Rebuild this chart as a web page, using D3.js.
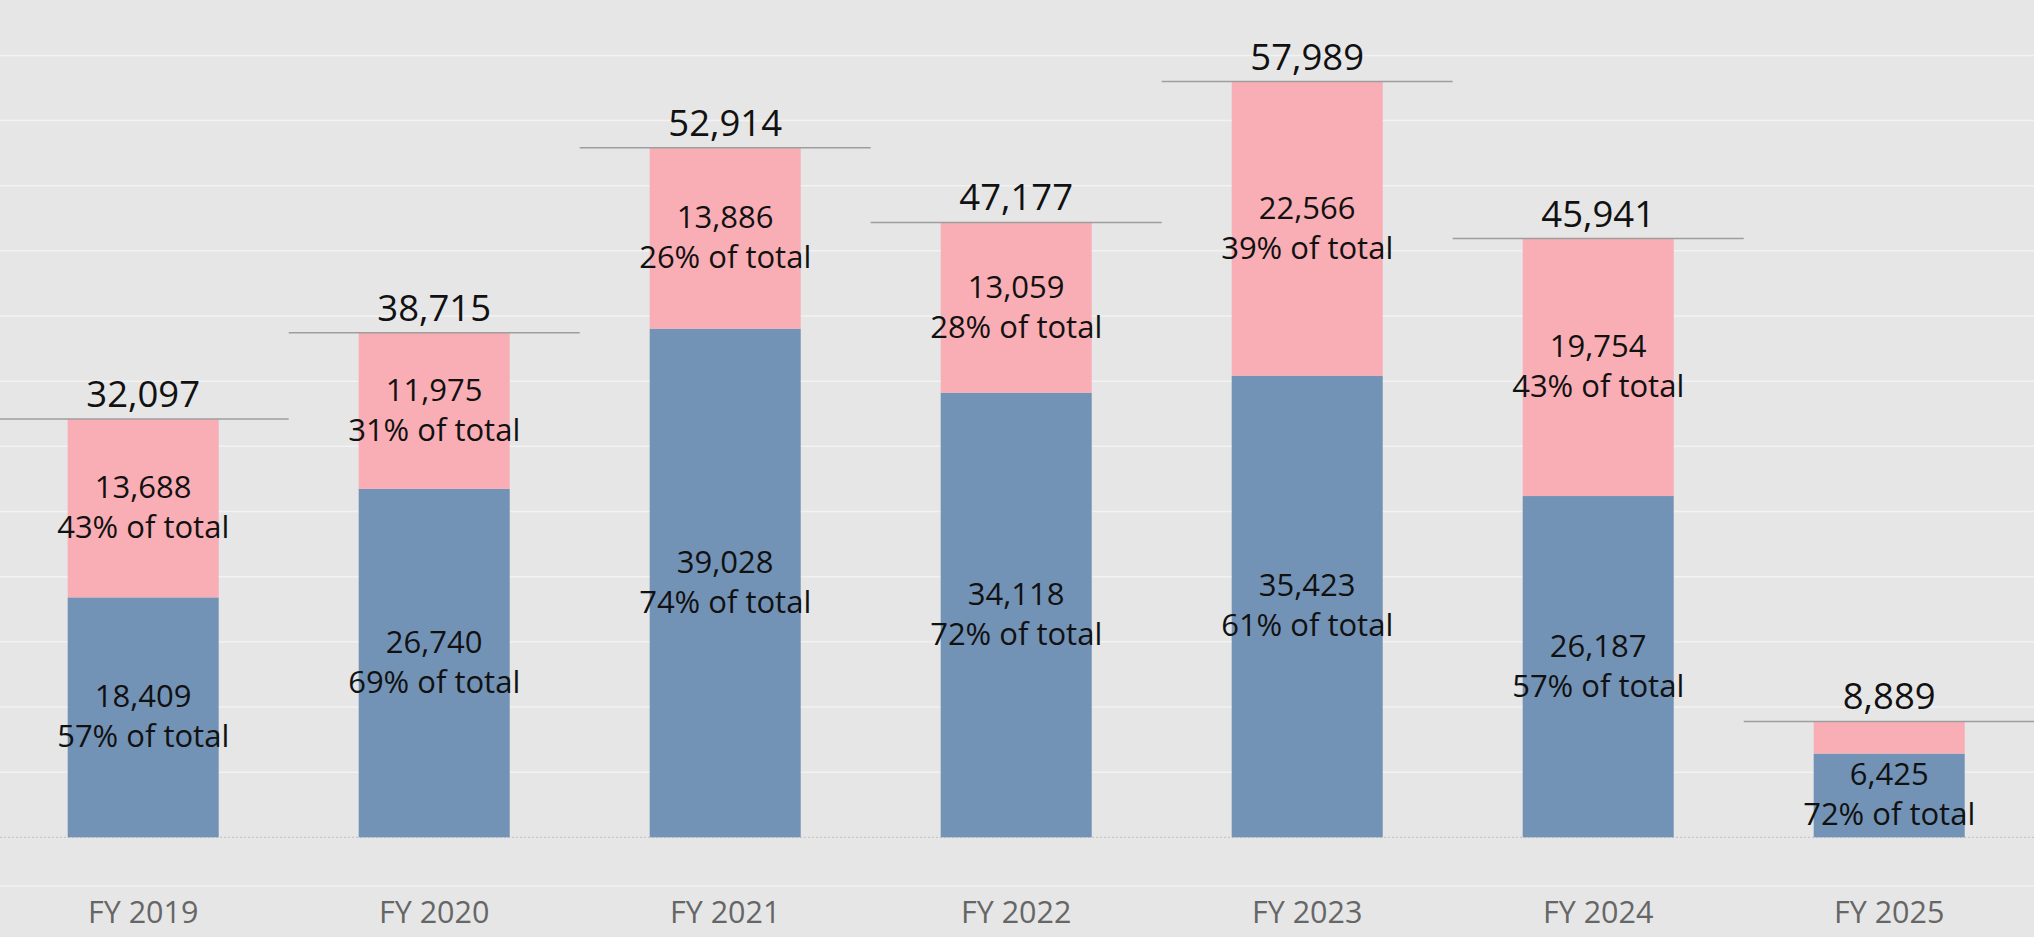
<!DOCTYPE html>
<html><head><meta charset="utf-8">
<script src="https://cdn.jsdelivr.net/npm/d3@7"></script>
<style>
html,body{margin:0;padding:0;background:#e6e6e6;overflow:hidden;}
svg{display:block;}
text{font-family:"Open Sans","Noto Sans",sans-serif;}
</style></head><body>
<svg id="chart" width="2034" height="937"></svg>
<script>
// ---- data ----
const categories = ["FY 2019","FY 2020","FY 2021","FY 2022","FY 2023","FY 2024","FY 2025"];
const blueValues = [18409, 26740, 39028, 34118, 35423, 26187, 6425];
const pinkValues = [13688, 11975, 13886, 13059, 22566, 19754, 2464];
const gridTicks  = [5000,10000,15000,20000,25000,30000,35000,40000,45000,50000,55000,60000];

// ---- layout ----
const W = 2034, H = 937;
const svg = d3.select("#chart");
const x = d3.scaleBand().domain(categories).range([-2.3, 2034.7]).padding(0);
const barW = x.bandwidth() * 0.519;
const y = d3.scaleLinear().domain([0, 64250]).range([837.3, 0]);
const fmt = d3.format(",");

const rows = categories.map((c, i) => ({
  cat: c, blue: blueValues[i], pink: pinkValues[i], total: blueValues[i] + pinkValues[i]
}));
const stack = d3.stack().keys(["blue", "pink"])(rows);
const colors = {blue: "#7393b6", pink: "#f9aeb5"};

// gridlines
svg.append("g").selectAll("line").data(gridTicks).join("line")
  .attr("x1", 0).attr("x2", W)
  .attr("y1", d => y(d)).attr("y2", d => y(d))
  .attr("stroke", "#f2f2f2").attr("stroke-width", 1.5);

// x header border
svg.append("line").attr("x1", 0).attr("x2", W).attr("y1", 886).attr("y2", 886)
  .attr("stroke", "#f2f2f2").attr("stroke-width", 1.5);

// baseline (dotted)
svg.append("line").attr("x1", 0).attr("x2", W).attr("y1", y(0)).attr("y2", y(0))
  .attr("stroke", "#c0c0c0").attr("stroke-width", 1).attr("stroke-dasharray", "2,2");

// bars
const layers = svg.append("g").selectAll("g").data(stack).join("g")
  .attr("fill", d => colors[d.key]);
layers.selectAll("rect").data(d => d).join("rect")
  .attr("x", d => x(d.data.cat) + (x.bandwidth() - barW) / 2)
  .attr("width", barW)
  .attr("y", d => y(d[1]))
  .attr("height", d => y(d[0]) - y(d[1]));

// reference lines at totals
svg.append("g").selectAll("line").data(rows).join("line")
  .attr("x1", d => x(d.cat)).attr("x2", d => x(d.cat) + x.bandwidth())
  .attr("y1", d => y(d.total)).attr("y2", d => y(d.total))
  .attr("stroke", "#9e9e9e").attr("stroke-width", 1.5);

// total labels
svg.append("g").selectAll("text").data(rows).join("text")
  .attr("x", d => x(d.cat) + x.bandwidth() / 2)
  .attr("y", d => y(d.total) - 12)
  .attr("text-anchor", "middle")
  .attr("font-size", 36.5)
  .attr("fill", "#111")
  .text(d => fmt(d.total));

// segment labels
stack.forEach(layer => {
  const g = svg.append("g");
  layer.forEach(seg => {
    const top = y(seg[1]), bot = y(seg[0]);
    if (bot - top < 60) return;
    const c = (top + bot) / 2;
    const v = seg[1] - seg[0];
    const pct = Math.round(v / seg.data.total * 100);
    const t = g.append("text")
      .attr("text-anchor", "middle")
      .attr("font-size", 31)
      .attr("fill", "#111");
    const cx = x(seg.data.cat) + x.bandwidth() / 2;
    t.append("tspan").attr("x", cx).attr("y", c - 10).text(fmt(v));
    t.append("tspan").attr("x", cx).attr("y", c + 30).text(pct + "% of total");
  });
});

// x axis labels
const xAxis = d3.axisBottom(x).tickSize(0).tickPadding(0);
const ax = svg.append("g").attr("transform", "translate(0,900)").call(xAxis);
ax.select(".domain").remove();
ax.selectAll("text")
  .attr("y", 22.7).attr("dy", null)
  .attr("font-size", 30.5)
  .attr("font-family", "'Open Sans','Noto Sans',sans-serif")
  .attr("fill", "#666");
</script>
</body></html>
